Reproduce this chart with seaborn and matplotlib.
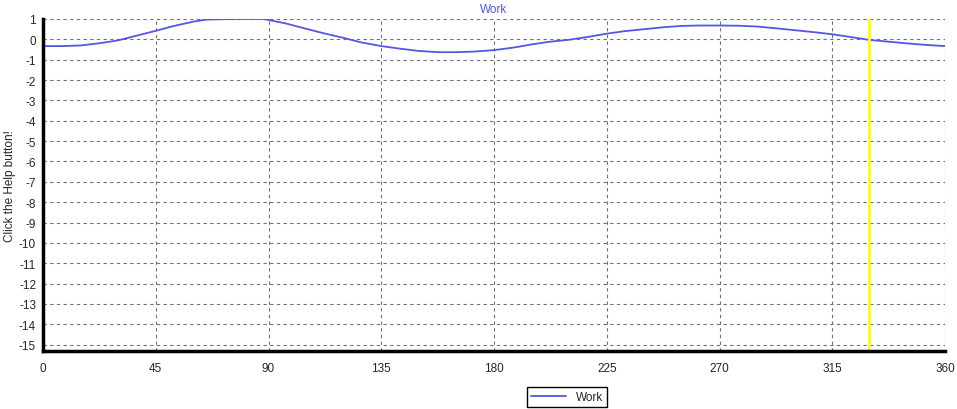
import matplotlib
matplotlib.use("Agg")
import matplotlib.pyplot as plt
import pandas as pd
import seaborn as sns
from matplotlib.ticker import MultipleLocator

# Values
angle = [0, 8, 15, 22, 30, 38, 45, 52, 60, 65, 75, 88, 97, 105, 112, 120,
         127, 135, 142, 150, 158, 165, 172, 180, 188, 195, 202, 210, 218,
         225, 232, 240, 248, 255, 262, 270, 278, 285, 292, 300, 308, 315,
         322, 330, 338, 345, 352, 360]
work = [-0.33, -0.33, -0.30, -0.20, -0.05, 0.20, 0.42, 0.65, 0.87, 0.97,
        1.0, 1.0, 0.78, 0.52, 0.30, 0.07, -0.15, -0.33, -0.45, -0.57, -0.63,
        -0.63, -0.60, -0.53, -0.40, -0.25, -0.12, -0.02, 0.13, 0.28, 0.40,
        0.50, 0.60, 0.66, 0.68, 0.68, 0.67, 0.63, 0.55, 0.45, 0.35, 0.25,
        0.12, -0.03, -0.12, -0.20, -0.27, -0.33]
cursor_x = 329.5
x_ticks = [0, 45, 90, 135, 180, 225, 270, 315, 360]
y_ticks = list(range(1, -16, -1))

df = pd.DataFrame({"angle": angle, "Work": work})

sns.set_style("white")
plt.rcParams["font.family"] = ["Liberation Sans", "DejaVu Sans"]
plt.rcParams["axes.unicode_minus"] = False

fig = plt.figure(figsize=(9.57, 4.10), dpi=100)
ax = fig.add_axes([43 / 957, 1 - 352 / 410, 902 / 957, 332 / 410])

sns.lineplot(data=df, x="angle", y="Work", ax=ax, color="#5555e6",
             linewidth=1.3, label="Work", legend=False)
ax.axvline(cursor_x, color="#ffff00", linewidth=2)

ax.set_xlim(0, 360)
ax.set_ylim(-15.31, 1)
ax.set_xticks(x_ticks)
ax.set_yticks(y_ticks)
ax.xaxis.set_minor_locator(MultipleLocator(11.25))
ax.grid(True, which="major", color="#707070", linestyle=(0, (3, 3)),
        linewidth=0.8)
ax.set_axisbelow(True)

for side in ["top", "right"]:
    ax.spines[side].set_visible(False)
ax.spines["left"].set_linewidth(2.5)
ax.spines["bottom"].set_linewidth(2.5)
ax.spines["left"].set_color("black")
ax.spines["bottom"].set_color("black")

ax.tick_params(axis="both", which="major", labelsize=8.5, length=3,
               width=0.8, color="#606060", direction="out", pad=5)
ax.tick_params(axis="x", which="minor", length=3, width=0.8,
               color="#606060", direction="out")
ax.tick_params(axis="y", pad=2)

ax.set_xlabel("")
ax.set_ylabel("Click the Help button!", fontsize=8.5, labelpad=2)
ax.set_title("Work", fontsize=8.5, color="#5555e6", pad=5)

handles, labels = ax.get_legend_handles_labels()
fig.legend(handles, labels, loc="center", bbox_to_anchor=(567 / 957, 12 / 410),
           fontsize=8.5, frameon=True, fancybox=False, edgecolor="black",
           handlelength=3, borderpad=0.3, framealpha=1)

fig.savefig("out.png", dpi=100)
